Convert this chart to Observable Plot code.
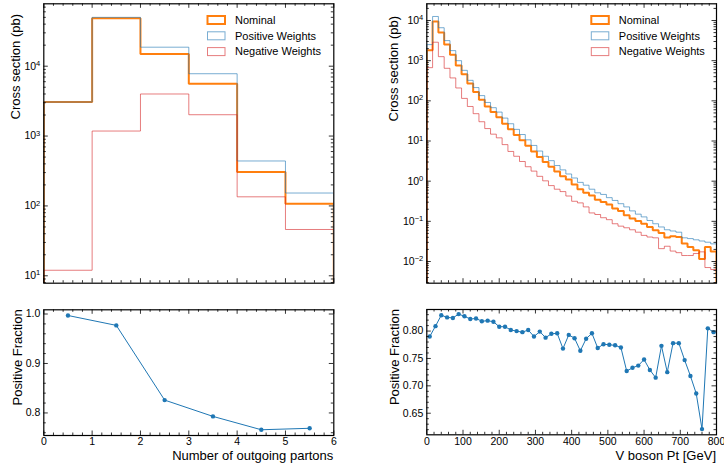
<!DOCTYPE html>
<html>
<head>
<meta charset="utf-8">
<script src="https://cdn.jsdelivr.net/npm/d3@7"></script>
<script src="https://cdn.jsdelivr.net/npm/@observablehq/plot@0.6"></script>
<style>
  html, body { margin: 0; padding: 0; background: #fff; }
  #wrap { position: relative; width: 724px; height: 466px; overflow: hidden; background: #fff;
          font-family: "Liberation Sans", Arial, Helvetica, sans-serif; }
  .panel { position: absolute; }
  .panel svg { overflow: visible; max-width: none; }
  #overlay { position: absolute; left: 0; top: 0; pointer-events: none; }
</style>
</head>
<body>
<div id="wrap">
  <div class="panel" id="tl" style="left:0px;top:0px"></div>
  <div class="panel" id="tr" style="left:362px;top:0px"></div>
  <div class="panel" id="bl" style="left:0px;top:290px"></div>
  <div class="panel" id="br" style="left:362px;top:290px"></div>
  <svg id="overlay" width="724" height="466"></svg>
</div>
<script>
// ---------------- data ----------------
const partonEdges = [0, 1, 2, 3, 4, 5, 6];
const partonCenters = [0.5, 1.5, 2.5, 3.5, 4.5, 5.5];
const partonNominal  = [3060, 48500, 15000, 5600, 306, 107];
const partonPositive = [3070, 50000, 18700, 7800, 440, 153];
const partonNegative = [12, 1180, 4000, 2020, 135, 46];
const partonFraction = [0.997, 0.977, 0.826, 0.793, 0.766, 0.769];

const ptBinWidth = 16;           // GeV, 50 bins from 0 to 800
const ptNominal = [1820, 9440, 5010, 2510, 1410, 759, 457, 269, 166, 107,
                   72.4, 52.5, 38.9, 26.9, 19.5, 14.1, 10.5, 7.59, 5.50, 3.98,
                   3.02, 2.29, 1.74, 1.32, 1.10, 0.832, 0.631, 0.513, 0.437, 0.347,
                   0.302, 0.263, 0.209, 0.182, 0.141, 0.117, 0.102, 0.0871, 0.0724, 0.0603,
                   0.0513, 0.0398, 0.0427, 0.0407, 0.0282, 0.0229, 0.0191, 0.0115, 0.0229, 0.0178];
const ptPositive = [2510, 12600, 6610, 3160, 1780, 1000, 575, 324, 214, 135,
                    91.2, 67.6, 52.5, 37.2, 26.9, 19.5, 14.5, 10.7, 7.76, 5.62,
                    4.17, 3.24, 2.45, 1.91, 1.51, 1.20, 0.933, 0.794, 0.631, 0.513,
                    0.468, 0.389, 0.331, 0.275, 0.229, 0.182, 0.151, 0.129, 0.105, 0.0871,
                    0.0724, 0.0617, 0.0575, 0.0537, 0.0389, 0.0372, 0.0347, 0.0324, 0.0302, 0.0275];
const ptNegative = [670, 2880, 1260, 646, 372, 209, 115, 72.4, 47.9, 30.2,
                    20.4, 14.8, 12.0, 8.13, 5.50, 4.17, 3.09, 2.29, 1.78, 1.32,
                    1.02, 0.776, 0.631, 0.550, 0.427, 0.316, 0.288, 0.229, 0.162, 0.148,
                    0.123, 0.110, 0.0871, 0.0759, 0.0692, 0.0617, 0.0537, 0.0447, 0.0407, 0.0389,
                    0.0209, 0.0240, 0.0182, 0.0166, 0.0141, 0.0141, 0.0158, 0.0174, 0.00708, 0.00631];
const ptFraction = [0.790, 0.809, 0.829, 0.825, 0.824, 0.831, 0.827, 0.822, 0.823, 0.818,
                    0.819, 0.817, 0.808, 0.808, 0.802, 0.800, 0.798, 0.802, 0.790, 0.799,
                    0.788, 0.795, 0.796, 0.768, 0.793, 0.787, 0.764, 0.786, 0.796, 0.769,
                    0.776, 0.775, 0.774, 0.770, 0.727, 0.733, 0.737, 0.748, 0.729, 0.715,
                    0.773, 0.725, 0.778, 0.778, 0.747, 0.718, 0.686, 0.621, 0.805, 0.798];

const seriesNames = ["Nominal", "Positive Weights", "Negative Weights"];
const partonLabel = "Number of outgoing partons";
const ptLabel = "V boson Pt [GeV]";
const xsecLabel = "Cross section (pb)";
const fracLabel = "Positive Fraction";

// ---------------- styling ----------------
const FONT = '"Liberation Sans", Arial, Helvetica, sans-serif';
const C_NOM = "#ff7f0e", C_POS = "#1f77b4", C_NEG = "#d62728";

const ptEdges = d3.range(0, 800 + ptBinWidth / 2, ptBinWidth);
const ptCenters = ptEdges.slice(0, -1).map(e => e + ptBinWidth / 2);

function stepPoints(edges, vals, floor) {
  const pts = [{x: edges[0], y: floor}];
  vals.forEach((v, i) => pts.push({x: edges[i], y: v}));
  pts.push({x: edges[edges.length - 1], y: vals[vals.length - 1]});
  pts.push({x: edges[edges.length - 1], y: floor});
  return pts;
}
function logMinor(lo, hi) {
  const out = [];
  for (let e = Math.floor(Math.log10(lo)); e <= Math.ceil(Math.log10(hi)); e++)
    for (let m = 2; m <= 9; m++) { const v = m * 10 ** e; if (v > lo && v < hi) out.push(v); }
  return out;
}
function logMajor(lo, hi) {
  const out = [];
  for (let e = Math.ceil(Math.log10(lo)); 10 ** e <= hi; e++) out.push(10 ** e);
  return out;
}
function linTicks(lo, hi, step) {
  const out = [];
  for (let k = Math.ceil(lo / step - 1e-9); k * step <= hi + 1e-9; k++) out.push(+(k * step).toFixed(6));
  return out;
}
const powFmt = d => { const e = Math.round(Math.log10(d)); return "10^" + (e < 0 ? "\u2212" + (-e) : e); };

function supify(svg) {
  svg.querySelectorAll("text").forEach(t => {
    const m = /^10\^(.+)$/.exec(t.textContent);
    if (m) {
      t.textContent = "10";
      const ts = document.createElementNS("http://www.w3.org/2000/svg", "tspan");
      ts.setAttribute("dy", "-0.5em");
      ts.setAttribute("font-size", "0.72em");
      ts.textContent = m[1];
      t.appendChild(ts);
    }
  });
}

function panel({id, W, H, m, xDom, yDom, yType, xMajor, xMinor, yMajor, yMinor, showX, yFmt, marks}) {
  const fw = W - m.l - m.r, fh = H - m.t - m.b;
  const tk = {stroke: "black", strokeWidth: 0.8};
  const tickMarks = [];
  [[yMajor, 4.5], [yMinor, 2.5]].forEach(([v, L]) => {
    tickMarks.push(Plot.ruleY(v, {y: d => d, insetRight: fw - L, ...tk}));
    tickMarks.push(Plot.ruleY(v, {y: d => d, insetLeft: fw - L, ...tk}));
  });
  [[xMajor, 4.5], [xMinor, 2.5]].forEach(([v, L]) => {
    tickMarks.push(Plot.ruleX(v, {x: d => d, insetTop: fh - L, ...tk}));
    tickMarks.push(Plot.ruleX(v, {x: d => d, insetBottom: fh - L, ...tk}));
  });
  const p = Plot.plot({
    width: W, height: H,
    marginLeft: m.l, marginRight: m.r, marginTop: m.t, marginBottom: m.b,
    style: {fontFamily: FONT, fontSize: "10.5px", color: "black", background: "transparent", overflow: "visible"},
    x: Object.assign({domain: xDom},
      showX ? {ticks: xMajor, tickSize: 0, tickPadding: 2.5, label: null, tickFormat: d => String(d)} : {axis: null}),
    y: {type: yType, domain: yDom, ticks: yMajor, tickSize: 0, tickPadding: 3.5, label: null, tickFormat: yFmt},
    marks: [...marks, ...tickMarks, Plot.frame({stroke: "black", strokeWidth: 1.2})]
  });
  supify(p);
  document.getElementById(id).appendChild(p);
  return p;
}

function histMarks(edges, nom, pos, neg, floor) {
  const common = {x: "x", y: "y", curve: "step-after", clip: true, strokeLinejoin: "miter", strokeLinecap: "butt"};
  return [
    Plot.line(stepPoints(edges, nom, floor), {...common, stroke: C_NOM, strokeWidth: 2}),
    Plot.line(stepPoints(edges, pos, floor), {...common, stroke: C_POS, strokeWidth: 1, strokeOpacity: 0.6}),
    Plot.line(stepPoints(edges, neg, floor), {...common, stroke: C_NEG, strokeWidth: 1, strokeOpacity: 0.6})
  ];
}

// ---- top-left: partons, log ----
{
  const yDom = [10 ** 0.894, 10 ** 4.893];
  panel({
    id: "tl", W: 362, H: 290, m: {l: 43.3, r: 28.7, t: 3.3, b: 7.3},
    xDom: [0, 6], yDom, yType: "log",
    xMajor: linTicks(0, 6, 1), xMinor: linTicks(0, 6, 0.2).filter(v => Math.abs(v - Math.round(v)) > 1e-6),
    yMajor: logMajor(...yDom), yMinor: logMinor(...yDom), showX: false, yFmt: powFmt,
    marks: histMarks(partonEdges, partonNominal, partonPositive, partonNegative, yDom[0] / 10)
  });
}
// ---- top-right: pt, log ----
{
  const yDom = [10 ** -2.54, 10 ** 4.416];
  panel({
    id: "tr", W: 362, H: 290, m: {l: 64.3, r: 8, t: 3.3, b: 7.3},
    xDom: [0, 800], yDom, yType: "log",
    xMajor: linTicks(0, 800, 100), xMinor: linTicks(0, 800, 20).filter(v => v % 100 !== 0),
    yMajor: logMajor(...yDom), yMinor: logMinor(...yDom), showX: false, yFmt: powFmt,
    marks: histMarks(ptEdges, ptNominal, ptPositive, ptNegative, yDom[0] / 10)
  });
}
// ---- bottom-left: parton fraction ----
{
  const yDom = [0.7544, 1.0085];
  const data = partonCenters.map((x, i) => ({x, y: partonFraction[i]}));
  panel({
    id: "bl", W: 362, H: 176, m: {l: 43.3, r: 28.7, t: 19.3, b: 31},
    xDom: [0, 6], yDom, yType: "linear",
    xMajor: linTicks(0, 6, 1), xMinor: linTicks(0, 6, 0.2).filter(v => Math.abs(v - Math.round(v)) > 1e-6),
    yMajor: linTicks(yDom[0], yDom[1], 0.1), yMinor: linTicks(yDom[0], yDom[1], 0.02).filter(v => Math.abs(v * 10 - Math.round(v * 10)) > 1e-6),
    showX: true, yFmt: d3.format(".1f"),
    marks: [
      Plot.line(data, {x: "x", y: "y", stroke: C_POS, strokeWidth: 1}),
      Plot.dot(data, {x: "x", y: "y", r: 2.2, fill: C_POS, stroke: "none"})
    ]
  });
}
// ---- bottom-right: pt fraction ----
{
  const yDom = [0.6106, 0.8394];
  const data = ptCenters.map((x, i) => ({x, y: ptFraction[i]}));
  panel({
    id: "br", W: 362, H: 176, m: {l: 64.3, r: 8, t: 19, b: 31.7},
    xDom: [0, 800], yDom, yType: "linear",
    xMajor: linTicks(0, 800, 100), xMinor: linTicks(0, 800, 20).filter(v => v % 100 !== 0),
    yMajor: linTicks(yDom[0], yDom[1], 0.05), yMinor: linTicks(yDom[0], yDom[1], 0.01).filter(v => Math.abs(v * 20 - Math.round(v * 20)) > 1e-6),
    showX: true, yFmt: d3.format(".2f"),
    marks: [
      Plot.line(data, {x: "x", y: "y", stroke: C_POS, strokeWidth: 1}),
      Plot.dot(data, {x: "x", y: "y", r: 2.2, fill: C_POS, stroke: "none"})
    ]
  });
}

// ---------------- overlay: axis titles and legends ----------------
const ov = d3.select("#overlay").style("font-family", FONT);
function vLabel(x, yTop, txt) {
  ov.append("text").attr("transform", `translate(${x},${yTop}) rotate(-90)`)
    .attr("text-anchor", "end").attr("font-size", 13).attr("fill", "black").text(txt);
}
function hLabel(xRight, y, txt) {
  ov.append("text").attr("x", xRight).attr("y", y).attr("text-anchor", "end")
    .attr("font-size", 13).attr("fill", "black").text(txt);
}
vLabel(20, 14, xsecLabel);
vLabel(397.5, 16, xsecLabel);
vLabel(22, 309.3, fracLabel);
vLabel(398.5, 309, fracLabel);
hLabel(333.3, 460, partonLabel);
hLabel(716, 460, ptLabel);

function legend(x0) {
  const styles = [
    {stroke: C_NOM, sw: 2, op: 1},
    {stroke: C_POS, sw: 1, op: 0.6},
    {stroke: C_NEG, sw: 1, op: 0.6}
  ];
  seriesNames.forEach((name, i) => {
    const cy = 20 + i * 15.8;
    ov.append("rect").attr("x", x0).attr("y", cy - 4).attr("width", 17.5).attr("height", 8)
      .attr("fill", "none").attr("stroke", styles[i].stroke).attr("stroke-width", styles[i].sw)
      .attr("stroke-opacity", styles[i].op);
    ov.append("text").attr("x", x0 + 27.5).attr("y", cy).attr("dy", "0.35em")
      .attr("font-size", 11).attr("fill", "black").text(name);
  });
}
legend(207.5);
legend(591.3);
</script>
</body>
</html>
